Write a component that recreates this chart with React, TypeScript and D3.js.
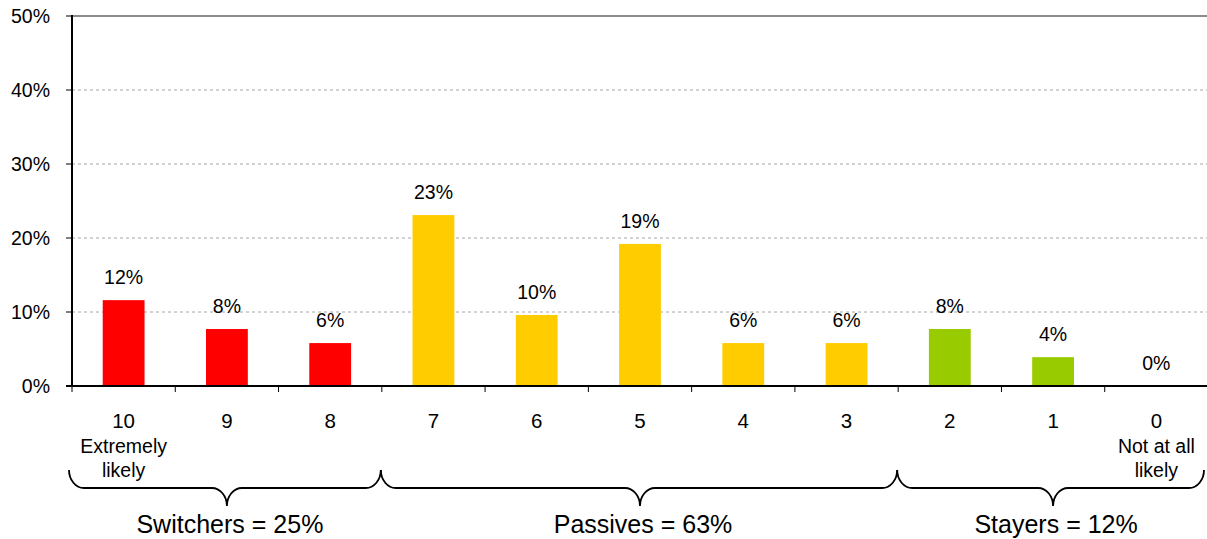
import React from "react";
import * as d3 from "d3";

// Likelihood scores from 10 (extremely likely) down to 0 (not at all likely)
const categories = ["10", "9", "8", "7", "6", "5", "4", "3", "2", "1", "0"];
const subLabels: Record<string, string[]> = {
  "10": ["Extremely", "likely"],
  "0": ["Not at all", "likely"],
};
// Share of respondents (%) for each score
const shares = [11.6, 7.7, 5.8, 23.1, 9.6, 19.2, 5.8, 5.8, 7.7, 3.9, 0];
// Segment each score belongs to
const segmentOf = ["sw", "sw", "sw", "pa", "pa", "pa", "pa", "pa", "st", "st", "st"];
const segmentColors: Record<string, string> = { sw: "#FF0000", pa: "#FFCC00", st: "#99CC00" };
// Bracketed groups beneath the axis
const groupNames = ["Switchers", "Passives", "Stayers"];
const groupTotals = [25, 63, 12];
const groupSpans: [number, number][] = [[0, 2], [3, 7], [8, 10]];
const yTicks = [0, 10, 20, 30, 40, 50];

const W = 1207;
const H = 539;
const FONT = "'Liberation Sans', Arial, sans-serif";

export default function App() {
  const left = 72;
  const right = 1208;
  const top = 16;
  const bottom = 386;

  const x = d3.scaleBand<string>().domain(categories).range([left, right]).paddingInner(0).paddingOuter(0);
  const y = d3.scaleLinear().domain([0, 50]).range([bottom, top]);
  const bw = x.bandwidth();
  const barW = bw * 0.405;

  // Curly brace from x0 to x1 with a downward tip
  const brace = (x0: number, x1: number, tipX: number) => {
    const y0 = 470;
    const ym = 488;
    const yt = 506;
    const r = 15;
    const k = 0.55;
    const p = d3.path();
    p.moveTo(x0, y0);
    p.bezierCurveTo(x0, y0 + (ym - y0) * k, x0 + r * (1 - k), ym, x0 + r, ym);
    p.lineTo(tipX - r, ym);
    p.bezierCurveTo(tipX - r * (1 - k), ym, tipX, ym + (yt - ym) * (1 - k), tipX, yt);
    p.bezierCurveTo(tipX, ym + (yt - ym) * (1 - k), tipX + r * (1 - k), ym, tipX + r, ym);
    p.lineTo(x1 - r, ym);
    p.bezierCurveTo(x1 - r * (1 - k), ym, x1, y0 + (ym - y0) * k, x1, y0);
    return p.toString();
  };

  const braceEdges = groupSpans.map(([a, b], i) => {
    const x0 = i === 0 ? left - 3 : (x(categories[a]) as number) - 1;
    const x1 = i === groupSpans.length - 1 ? W - 3 : (x(categories[b]) as number) + bw - 1;
    return [x0, x1];
  });

  return (
    <svg width={W} height={H} style={{ position: "absolute", left: 0, top: 0, background: "#fff" }} fontFamily={FONT}>
      {/* gridlines */}
      {yTicks.filter((t) => t > 0 && t < 50).map((t) => (
        <line key={t} x1={left} x2={right} y1={y(t)} y2={y(t)} stroke="#a6a6a6" strokeWidth={1} strokeDasharray="3,3" />
      ))}
      <line x1={left} x2={right} y1={y(50)} y2={y(50)} stroke="#8c8c8c" strokeWidth={2} />

      {/* bars */}
      {shares.map((v, i) => {
        const cx = (x(categories[i]) as number) + bw / 2;
        return (
          <g key={i}>
            {v > 0 && (
              <rect x={cx - barW / 2} y={y(v)} width={barW} height={y(0) - y(v)} fill={segmentColors[segmentOf[i]]} />
            )}
            <text x={cx} y={y(v) - 16} textAnchor="middle" fontSize={19.5} fill="#000">
              {Math.round(v)}%
            </text>
          </g>
        );
      })}

      {/* y axis */}
      <line x1={left} x2={left} y1={top - 1} y2={bottom + 1} stroke="#000" strokeWidth={2} />
      {yTicks.map((t) => (
        <g key={t}>
          <line x1={left - 6} x2={left} y1={y(t)} y2={y(t)} stroke="#000" strokeWidth={1} />
          <text x={50} y={y(t)} dy="0.35em" textAnchor="end" fontSize={19.5} fill="#000">
            {t}%
          </text>
        </g>
      ))}

      {/* x axis */}
      <line x1={left - 6} x2={right} y1={bottom} y2={bottom} stroke="#000" strokeWidth={2} />
      {categories.map((c) => (
        <line key={c} x1={(x(c) as number)} x2={(x(c) as number)} y1={bottom} y2={bottom + 6} stroke="#000" strokeWidth={1} />
      ))}
      {categories.map((c) => {
        const cx = (x(c) as number) + bw / 2;
        const sub = subLabels[c];
        return (
          <g key={c}>
            <text x={cx} y={428} textAnchor="middle" fontSize={20.5} fill="#000">{c}</text>
            {sub && sub.map((s, k) => (
              <text key={k} x={cx} y={453 + k * 24} textAnchor="middle" fontSize={19.5} fill="#000">{s}</text>
            ))}
          </g>
        );
      })}

      {/* group braces */}
      {groupSpans.map(([a, b], i) => {
        const [x0, x1] = braceEdges[i];
        const tip = ((x(categories[a]) as number) + (x(categories[b]) as number) + bw) / 2;
        return (
          <g key={i}>
            <path d={brace(x0, x1, tip)} fill="none" stroke="#000" strokeWidth={1.8} />
            <text x={tip + 3} y={533} textAnchor="middle" fontSize={25} fill="#000">
              {groupNames[i]} = {groupTotals[i]}%
            </text>
          </g>
        );
      })}
    </svg>
  );
}
